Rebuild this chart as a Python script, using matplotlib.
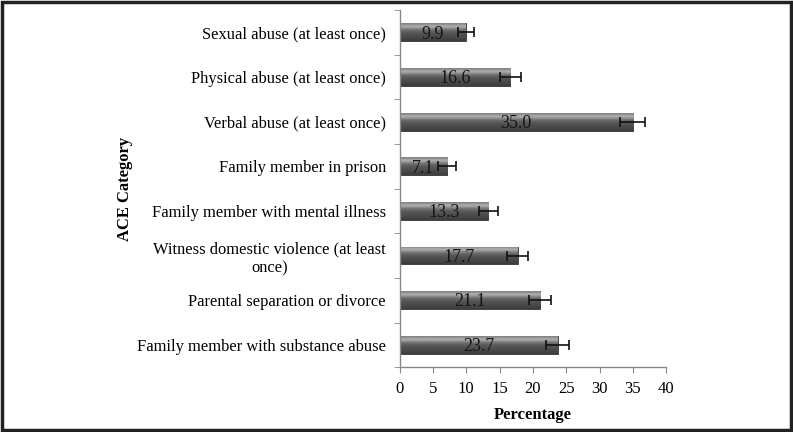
import numpy as np
import matplotlib.pyplot as plt
from matplotlib.patches import Rectangle

# ACE categories, top to bottom as in the chart
categories = ['Sexual abuse (at least once)',
              'Physical abuse (at least once)',
              'Verbal abuse (at least once)',
              'Family member in prison',
              'Family member with mental illness',
              'Witness domestic violence (at least\nonce)',
              'Parental separation or divorce',
              'Family member with substance abuse']
percent = [9.9, 16.6, 35.0, 7.1, 13.3, 17.7, 21.1, 23.7]
err = [1.2, 1.6, 1.9, 1.3, 1.4, 1.55, 1.65, 1.75]

plt.rcParams['font.family'] = ['Liberation Serif', 'DejaVu Serif']

fig = plt.figure(figsize=(7.93, 4.32), dpi=100)
ax = fig.add_axes([0.504, 0.150, 0.336, 0.827])

y = np.arange(len(categories))[::-1]
bars = ax.barh(y, percent, height=0.4, color='#555555', edgecolor='#333333',
               linewidth=0.6, zorder=2)

# vertical shading on each bar (light band near top, darker lower)
grad = np.array([0.5, 0.72, 0.58, 0.42, 0.36, 0.32, 0.30, 0.28, 0.24]).reshape(-1, 1)
for b in bars:
    x0, y0 = b.get_x(), b.get_y()
    w, h = b.get_width(), b.get_height()
    im = ax.imshow(grad, cmap='gray', vmin=0, vmax=1, aspect='auto',
                   extent=(x0, x0 + w, y0, y0 + h), origin='upper',
                   interpolation='bicubic', zorder=2.5)
    im.set_clip_path(b)

ax.errorbar(percent, y, xerr=err, fmt='none', ecolor='#111111',
            elinewidth=1.2, capsize=3.3, capthick=1.2, zorder=4)

for yi, v in zip(y, percent):
    ax.text(v / 2, yi - 0.04, f'{v:.1f}', ha='center', va='center',
            fontsize=13, color='#151515', zorder=5)

ax.set_xlim(0, 40)
ax.set_ylim(-0.5, len(categories) - 0.5)
ax.set_xticks(np.arange(0, 41, 5))
ax.set_yticks(y)
ax.set_yticklabels(categories, fontsize=11.9, multialignment='center')
ax.tick_params(axis='x', labelsize=12, length=4, color='#888888', pad=6)
ax.tick_params(axis='y', length=0, pad=10)
# minor ticks on y at category boundaries
ax.set_yticks(np.arange(-0.5, len(categories), 1), minor=True)
ax.tick_params(axis='y', which='minor', length=4, color='#888888')

for s in ['top', 'right']:
    ax.spines[s].set_visible(False)
for s in ['left', 'bottom']:
    ax.spines[s].set_color('#888888')
    ax.spines[s].set_linewidth(1)

ax.set_xlabel('Percentage', fontsize=12, fontweight='bold', labelpad=7)
fig.text(0.158, 0.563, 'ACE Category', rotation=90, ha='center', va='center',
         fontsize=12, fontweight='bold')

# dark frame around the whole image
fig.patches.append(Rectangle((0.002, 0.004), 0.995, 0.992, transform=fig.transFigure,
                             fill=False, edgecolor='#222222', linewidth=2.5))

fig.savefig('out.png', dpi=100)
